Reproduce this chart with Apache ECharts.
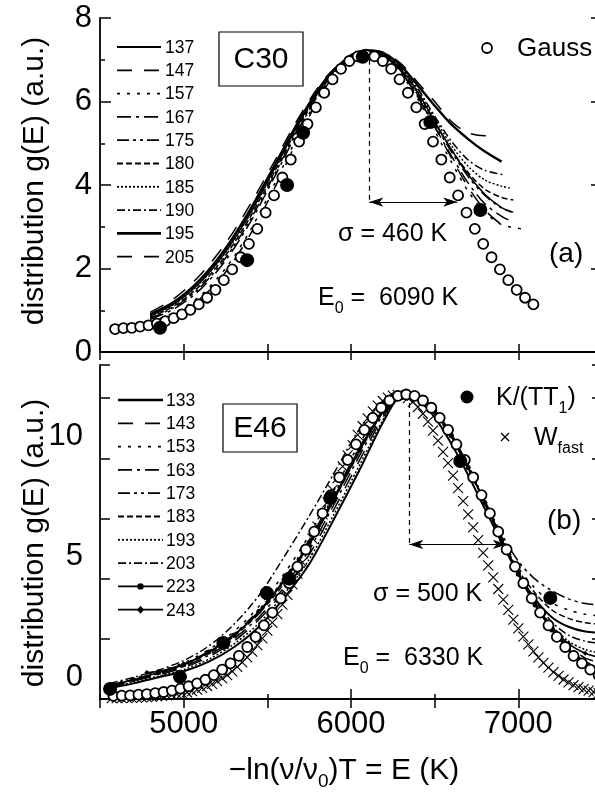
<!DOCTYPE html>
<html>
<head>
<meta charset="utf-8">
<script src="https://cdn.jsdelivr.net/npm/echarts@6/dist/echarts.min.js"></script>
<style>
html,body{margin:0;padding:0;background:#fff}
#main{width:595px;height:796px}
</style>
</head>
<body>
<div id="main"></div>
<script>
// ---------- panel (a) : C30 ----------
var c30Gauss = [[4590,0.55],[4640,0.57],[4690,0.58],[4740,0.61],[4790,0.64],[4840,0.68],[4890,0.74],[4940,0.81],[4990,0.90],[5040,1.01],[5090,1.14],[5140,1.30],[5190,1.49],[5240,1.72],[5290,1.98],[5340,2.27],[5390,2.59],[5440,2.95],[5490,3.34],[5540,3.75],[5590,4.18],[5640,4.61],[5690,5.04],[5740,5.46],[5790,5.86],[5840,6.21],[5890,6.53],[5940,6.78],[5990,6.97],[6040,7.08],[6090,7.12],[6140,7.08],[6190,6.97],[6240,6.78],[6290,6.53],[6340,6.21],[6390,5.86],[6440,5.46],[6490,5.04],[6540,4.61],[6590,4.18],[6640,3.75],[6690,3.34],[6740,2.95],[6790,2.59],[6840,2.27],[6890,1.98],[6940,1.72],[6990,1.49],[7040,1.30],[7090,1.14]];
var c30Ktt = [[4859,0.58],[5379,2.2],[5618,4.0],[5714,5.25],[6070,7.07],[6474,5.51],[6773,3.4]];

var c30_137 = [[4800,0.86],[4950,1.17],[5100,1.67],[5250,2.40],[5400,3.34],[5550,4.45],[5700,5.56],[5850,6.50],[6000,7.08],[6100,7.18],[6200,7.10],[6300,6.76],[6400,6.22],[6500,5.52],[6600,4.85],[6700,4.25],[6800,3.78],[6900,3.46],[6960,3.35]];
var c30_147 = [[4800,0.69],[4950,0.90],[5100,1.28],[5250,1.91],[5400,2.83],[5550,3.98],[5700,5.24],[5850,6.35],[6000,7.06],[6100,7.18],[6200,7.08],[6300,6.70],[6400,6.10],[6500,5.40],[6600,4.65],[6700,3.95],[6800,3.40],[6900,3.05],[6950,2.95]];
var c30_157 = [[4800,0.72],[4950,0.95],[5100,1.35],[5250,2.00],[5400,2.93],[5550,4.08],[5700,5.32],[5850,6.40],[6000,7.07],[6100,7.19],[6200,7.05],[6300,6.65],[6400,6.05],[6500,5.30],[6600,4.55],[6700,3.85],[6800,3.35],[6900,3.05],[7020,2.95]];
var c30_167 = [[4800,0.78],[4950,1.05],[5100,1.50],[5250,2.19],[5400,3.12],[5550,4.25],[5700,5.43],[5850,6.44],[6000,7.07],[6100,7.20],[6200,7.08],[6300,6.70],[6400,6.10],[6500,5.40],[6600,4.70],[6700,4.05],[6800,3.55],[6900,3.25],[6950,3.15]];
var c30_175 = [[4800,0.80],[4950,1.09],[5100,1.55],[5250,2.25],[5400,3.18],[5550,4.31],[5700,5.47],[5850,6.46],[6000,7.08],[6100,7.20],[6200,7.10],[6300,6.72],[6400,6.15],[6500,5.45],[6600,4.80],[6700,4.20],[6800,3.75],[6900,3.45],[6970,3.35]];
var c30_180 = [[4800,0.82],[4950,1.12],[5100,1.60],[5250,2.31],[5400,3.25],[5550,4.37],[5700,5.51],[5850,6.48],[6000,7.08],[6100,7.20],[6200,7.10],[6300,6.75],[6400,6.20],[6500,5.50],[6600,4.85],[6700,4.30],[6800,3.90],[6900,3.70],[6970,3.64]];
var c30_185 = [[4800,0.85],[4950,1.16],[5100,1.66],[5250,2.38],[5400,3.32],[5550,4.43],[5700,5.55],[5850,6.50],[6000,7.09],[6100,7.20],[6200,7.12],[6300,6.78],[6400,6.25],[6500,5.60],[6600,4.95],[6700,4.45],[6800,4.12],[6900,3.97],[6950,3.93]];
var c30_190 = [[4800,0.89],[4950,1.21],[5100,1.72],[5250,2.45],[5400,3.40],[5550,4.50],[5700,5.60],[5850,6.52],[6000,7.09],[6100,7.20],[6200,7.12],[6300,6.80],[6400,6.30],[6500,5.65],[6600,5.05],[6700,4.60],[6800,4.35],[6920,4.24]];
var c30_195 = [[4800,0.90],[4950,1.22],[5100,1.74],[5250,2.48],[5400,3.43],[5550,4.52],[5700,5.62],[5850,6.54],[6000,7.10],[6100,7.22],[6200,7.15],[6300,6.85],[6400,6.38],[6500,5.90],[6600,5.45],[6700,5.10],[6800,4.80],[6900,4.56]];
var c30_205 = [[4800,0.95],[4950,1.30],[5100,1.85],[5250,2.60],[5400,3.55],[5550,4.62],[5700,5.70],[5850,6.58],[6000,7.12],[6100,7.23],[6200,7.17],[6300,6.90],[6400,6.45],[6500,6.00],[6600,5.52],[6700,5.25],[6800,5.18],[6860,5.22]];

// ---------- panel (b) : E46 ----------
var e46Gauss = [[4580,0.13],[4630,0.14],[4680,0.15],[4730,0.18],[4780,0.2],[4830,0.24],[4880,0.29],[4930,0.35],[4980,0.43],[5030,0.53],[5080,0.65],[5130,0.8],[5180,0.99],[5230,1.22],[5280,1.48],[5330,1.79],[5380,2.16],[5430,2.58],[5480,3.06],[5530,3.59],[5580,4.18],[5630,4.81],[5680,5.5],[5730,6.21],[5780,6.95],[5830,7.71],[5880,8.47],[5930,9.21],[5980,9.93],[6030,10.58],[6080,11.18],[6130,11.68],[6180,12.1],[6230,12.4],[6280,12.59],[6330,12.65],[6380,12.59],[6430,12.4],[6480,12.1],[6530,11.68],[6580,11.18],[6630,10.58],[6680,9.93],[6730,9.21],[6780,8.47],[6830,7.71],[6880,6.95],[6930,6.21],[6980,5.5],[7030,4.81],[7080,4.18],[7130,3.59],[7180,3.06],[7230,2.58],[7280,2.16],[7330,1.79],[7380,1.48],[7430,1.22],[7480,0.99]];
var e46Ktt = [[4560,0.42],[4978,0.92],[5237,2.33],[5497,4.4],[5630,5.0],[5876,8.35],[6653,9.89],[7191,4.2]];
var e46Wfast = [[4570,0.04],[4600,0.04],[4630,0.04],[4660,0.05],[4690,0.05],[4720,0.06],[4750,0.07],[4780,0.08],[4810,0.09],[4840,0.11],[4870,0.13],[4900,0.15],[4930,0.17],[4960,0.2],[4990,0.24],[5020,0.28],[5050,0.33],[5080,0.39],[5110,0.46],[5140,0.54],[5170,0.63],[5200,0.74],[5230,0.86],[5260,0.99],[5290,1.15],[5320,1.33],[5350,1.52],[5380,1.73],[5410,1.97],[5440,2.24],[5470,2.52],[5500,2.84],[5530,3.17],[5560,3.53],[5590,3.92],[5620,4.33],[5650,4.76],[5680,5.21],[5710,5.68],[5740,6.17],[5770,6.66],[5800,7.16],[5830,7.67],[5860,8.18],[5890,8.69],[5920,9.18],[5950,9.66],[5980,10.12],[6010,10.55],[6040,10.97],[6070,11.33],[6100,11.66],[6130,11.95],[6160,12.19],[6190,12.38],[6220,12.52],[6250,12.6],[6280,12.63],[6310,12.6],[6340,12.5],[6370,12.34],[6400,12.13],[6430,11.85],[6460,11.52],[6490,11.15],[6520,10.73],[6550,10.27],[6580,9.8],[6610,9.28],[6640,8.76],[6670,8.22],[6700,7.67],[6730,7.13],[6760,6.6],[6790,6.07],[6820,5.55],[6850,5.05],[6880,4.57],[6910,4.13],[6940,3.7],[6970,3.3],[7000,2.93],[7030,2.59],[7060,2.27],[7090,1.98],[7120,1.73],[7150,1.5],[7180,1.3],[7210,1.12],[7240,0.96],[7270,0.81],[7300,0.69],[7330,0.58],[7360,0.49],[7390,0.41],[7420,0.35],[7450,0.29],[7480,0.24]];

var e46_133 = [[4560,0.45],[4700,0.65],[4850,0.9],[5000,1.15],[5150,1.55],[5300,2.15],[5450,3.0],[5600,4.2],[5750,5.6],[5900,7.5],[6050,9.5],[6200,11.6],[6300,12.55],[6400,12.4],[6500,11.7],[6600,10.6],[6700,9.3],[6800,7.9],[6900,6.5],[7000,5.2],[7100,4.15],[7200,3.4],[7300,3.0],[7400,2.8],[7500,2.75]];
var e46_143 = [[4560,0.5],[4700,0.75],[4850,1.0],[5000,1.3],[5150,1.75],[5300,2.4],[5450,3.3],[5600,4.5],[5750,6.0],[5900,7.9],[6050,9.9],[6200,11.8],[6300,12.6],[6400,12.45],[6500,11.85],[6600,10.85],[6700,9.55],[6800,8.1],[6900,6.6],[7000,5.2],[7100,3.95],[7200,2.9],[7300,2.12],[7400,1.55],[7500,1.3]];
var e46_153 = [[4560,0.6],[4700,0.85],[4850,1.15],[5000,1.5],[5150,2.05],[5300,2.8],[5450,3.85],[5600,5.2],[5750,6.8],[5900,8.7],[6050,10.6],[6200,12.2],[6300,12.7],[6400,12.55],[6500,12.0],[6600,11.0],[6700,9.7],[6800,8.2],[6900,6.75],[7000,5.45],[7100,4.6],[7200,4.0],[7300,3.7],[7400,3.52],[7500,3.45]];
var e46_163 = [[4560,0.52],[4700,0.78],[4850,1.05],[5000,1.35],[5150,1.82],[5300,2.5],[5450,3.4],[5600,4.65],[5750,6.2],[5900,8.1],[6050,10.1],[6200,11.9],[6300,12.6],[6400,12.45],[6500,11.9],[6600,10.9],[6700,9.6],[6800,8.17],[6900,6.65],[7000,5.21],[7100,3.95],[7200,2.95],[7300,2.2],[7400,1.7],[7500,1.5]];
var e46_173 = [[4560,0.58],[4700,0.82],[4850,1.1],[5000,1.45],[5150,1.98],[5300,2.7],[5450,3.7],[5600,5.0],[5750,6.6],[5900,8.5],[6050,10.45],[6200,12.1],[6300,12.7],[6400,12.55],[6500,12.0],[6600,11.0],[6700,9.7],[6800,8.23],[6900,6.86],[7000,5.72],[7100,4.98],[7200,4.5],[7300,4.16],[7400,3.97],[7500,3.9]];
var e46_183 = [[4560,0.55],[4700,0.8],[4850,1.07],[5000,1.4],[5150,1.9],[5300,2.6],[5450,3.55],[5600,4.8],[5750,6.4],[5900,8.3],[6050,10.25],[6200,12.0],[6300,12.65],[6400,12.5],[6500,11.95],[6600,10.95],[6700,9.66],[6800,8.18],[6900,6.7],[7000,5.35],[7100,4.4],[7200,3.7],[7300,3.35],[7400,3.17],[7500,3.1]];
var e46_193 = [[4560,0.48],[4700,0.7],[4850,0.95],[5000,1.22],[5150,1.65],[5300,2.28],[5450,3.15],[5600,4.35],[5750,5.8],[5900,7.7],[6050,9.7],[6200,11.7],[6300,12.6],[6400,12.45],[6500,11.9],[6600,10.9],[6700,9.6],[6800,8.15],[6900,6.65],[7000,5.22],[7100,4.0],[7200,3.05],[7300,2.4],[7400,2.05],[7500,1.9]];
var e46_203 = [[4560,0.65],[4700,0.9],[4850,1.2],[5000,1.6],[5150,2.2],[5300,3.1],[5450,4.3],[5600,5.9],[5750,7.6],[5900,9.4],[6050,11.2],[6200,12.4],[6300,12.75],[6400,12.5],[6500,11.95],[6600,10.94],[6700,9.64],[6800,8.17],[6900,6.66],[7000,5.25],[7100,4.1],[7200,3.2],[7300,2.65],[7400,2.4],[7500,2.3]];
var e46_223 = [[4560,0.55],[4700,0.8],[4850,1.1],[5000,1.42],[5150,1.95],[5300,2.65],[5450,3.65],[5600,4.95],[5750,6.5],[5900,8.4],[6050,10.4],[6200,12.05],[6300,12.6],[6400,12.6],[6500,12.0],[6600,10.95],[6700,9.62],[6800,8.15],[6900,6.62],[7000,5.18],[7100,3.9],[7200,2.87],[7300,2.05],[7400,1.45],[7500,1.1]];
var e46_243 = [[4780,1.1],[4850,1.15],[5000,1.45],[5150,1.95],[5300,2.65],[5450,3.6],[5600,4.9],[5750,6.4],[5900,8.3],[6050,10.3],[6200,12.0],[6300,12.65],[6400,12.5],[6500,11.9],[6600,10.9],[6700,9.6],[6800,8.15],[6900,6.65],[7000,5.22],[7100,3.98],[7200,3.0],[7300,2.3],[7400,1.9],[7500,1.7]];

var topNames = ['137','147','157','167','175','180','185','190','195','205'];
var topLines = [c30_137,c30_147,c30_157,c30_167,c30_175,c30_180,c30_185,c30_190,c30_195,c30_205];
var botNames = ['133','143','153','163','173','183','193','203','223','243'];
var botLines = [e46_133,e46_143,e46_153,e46_163,e46_173,e46_183,e46_193,e46_203,e46_223,e46_243];

// line styles
var topDash = ['solid',[15,12],[3,7],[14,5,3,5],[12,4,3,4,3,4],[6,3],[2,2],[8,3,2,3],'solid',[15,12]];
var topWidth = [1.5,1.5,1.5,1.5,1.5,1.5,1.5,1.5,2.4,1.5];
var botDash = ['solid',[15,12],[3,7],[14,5,3,5],[12,4,3,4,3,4],[6,3],[2,2],[8,3,2,3],'solid','solid'];
var botWidth = [2,1.5,1.5,1.5,1.5,1.5,1.5,1.5,1.5,1.5];
var botSym = ['none','none','none','none','none','none','none','none','circle','diamond'];

var FONT = 'Liberation Sans';
var chart = echarts.init(document.getElementById('main'), null, {renderer: 'canvas'});

function lineSeries(data, dash, width, xi, yi, sym) {
  return {
    type: 'line', data: data, xAxisIndex: xi, yAxisIndex: yi,
    symbol: sym, showSymbol: sym !== 'none', symbolSize: 5,
    smooth: 0.3, silent: true, z: 2,
    lineStyle: {color: '#000', width: width, type: dash},
    itemStyle: {color: '#000', opacity: 1}
  };
}

var series = [];
topLines.forEach(function (d, i) { series.push(lineSeries(d, topDash[i], topWidth[i], 0, 0, 'none')); });
botLines.forEach(function (d, i) { series.push(lineSeries(d, botDash[i], botWidth[i], 2, 2, botSym[i])); });

var openCircle = {color: '#fff', borderColor: '#000', borderWidth: 1.8, opacity: 1};
series.push({
  type: 'scatter', data: c30Gauss, xAxisIndex: 0, yAxisIndex: 0, symbol: 'circle', symbolSize: 10,
  itemStyle: openCircle, z: 4, silent: true,
  markLine: {
    silent: true, symbol: ['none', 'none'], label: {show: false}, animation: false,
    data: [
      [{coord: [6109, 7.0], lineStyle: {type: [5, 4], width: 1.2, color: '#000'}}, {coord: [6109, 3.59]}],
      [{coord: [6109, 3.59], symbol: 'arrow', symbolSize: [7, 14], lineStyle: {type: 'solid', width: 1.2, color: '#000'}}, {coord: [6635, 3.59], symbol: 'arrow', symbolSize: [7, 14]}]
    ]
  }
});
series.push({
  type: 'scatter', data: c30Ktt, xAxisIndex: 0, yAxisIndex: 0, symbol: 'circle', symbolSize: 14,
  itemStyle: {color: '#000', opacity: 1}, z: 5, silent: true
});
series.push({
  type: 'scatter', data: e46Wfast, xAxisIndex: 2, yAxisIndex: 2, symbol: 'path://M0,0L10,10M0,10L10,0', symbolSize: 10,
  itemStyle: {color: 'rgba(0,0,0,0)', borderColor: '#000', borderWidth: 1.1, opacity: 1}, z: 3, silent: true
});
series.push({
  type: 'scatter', data: e46Gauss, xAxisIndex: 2, yAxisIndex: 2, symbol: 'circle', symbolSize: 10,
  itemStyle: openCircle, z: 4, silent: true,
  markLine: {
    silent: true, symbol: ['none', 'none'], label: {show: false}, animation: false,
    data: [
      [{coord: [6348, 12.3], lineStyle: {type: [5, 4], width: 1.2, color: '#000'}}, {coord: [6348, 6.42]}],
      [{coord: [6348, 6.42], symbol: 'arrow', symbolSize: [7, 14], lineStyle: {type: 'solid', width: 1.2, color: '#000'}}, {coord: [6932, 6.42], symbol: 'arrow', symbolSize: [7, 14]}]
    ]
  }
});
series.push({
  type: 'scatter', data: e46Ktt, xAxisIndex: 2, yAxisIndex: 2, symbol: 'circle', symbolSize: 14,
  itemStyle: {color: '#000', opacity: 1}, z: 5, silent: true
});

var axLine = {show: true, lineStyle: {color: '#000', width: 1.8}};
var tickStyle = {color: '#000', width: 1.5};
function xAx(gi, pos, tickLen, labels) {
  return {
    type: 'value', gridIndex: gi, position: pos, min: 4500, max: 7500, interval: 500,
    axisLine: axLine, splitLine: {show: false},
    axisTick: {show: true, inside: true, length: tickLen, lineStyle: tickStyle},
    axisLabel: labels ? {
      show: true, margin: 10, fontFamily: FONT, fontSize: 31, color: '#000',
      formatter: function (v) { return v % 1000 === 0 ? String(v) : ''; }
    } : {show: false}
  };
}

var option = {
  animation: false,
  backgroundColor: '#fff',
  grid: [
    {left: 100, top: 18, width: 502, height: 334, outerBoundsMode: 'none'},
    {left: 100, top: 365, width: 502, height: 334, outerBoundsMode: 'none'}
  ],
  xAxis: [
    xAx(0, 'bottom', 8, false),
    xAx(0, 'top', 8, false),
    xAx(1, 'bottom', 5, true),
    xAx(1, 'top', 9, false),
    {
      type: 'value', gridIndex: 1, position: 'bottom', min: 4500, max: 7500, interval: 500,
      axisLine: {show: false}, splitLine: {show: false}, axisLabel: {show: false},
      axisTick: {show: true, inside: true, length: 10, lineStyle: tickStyle, customValues: [5000, 6000, 7000]}
    }
  ],
  yAxis: [
    {
      type: 'value', gridIndex: 0, position: 'left', min: 0, max: 8, interval: 2,
      axisLine: axLine, splitLine: {show: false},
      axisTick: {show: true, inside: true, length: 11, lineStyle: tickStyle},
      minorTick: {show: true, splitNumber: 2, length: 5, lineStyle: tickStyle},
      axisLabel: {margin: 8, fontFamily: FONT, fontSize: 31, color: '#000'}
    },
    {
      type: 'value', gridIndex: 0, position: 'right', min: 0, max: 8, interval: 2,
      axisLine: axLine, splitLine: {show: false},
      axisTick: {show: true, inside: true, length: 11, lineStyle: tickStyle},
      minorTick: {show: true, splitNumber: 2, length: 5, lineStyle: tickStyle},
      axisLabel: {show: false}
    },
    {
      type: 'value', gridIndex: 1, position: 'left', min: 0, max: 13.875, interval: 2.5,
      axisLine: axLine, splitLine: {show: false},
      axisTick: {show: true, inside: true, length: 10, lineStyle: tickStyle},
      axisLabel: {
        margin: 17, fontFamily: FONT, fontSize: 31, color: '#000',
        verticalAlign: 'bottom', lineHeight: 44,
        formatter: function (v) { return (v === 0 || v === 5 || v === 10) ? String(v) : ''; }
      }
    },
    {
      type: 'value', gridIndex: 1, position: 'right', min: 0, max: 13.875, interval: 2.5,
      axisLine: axLine, splitLine: {show: false},
      axisTick: {show: true, inside: true, length: 10, lineStyle: tickStyle},
      axisLabel: {show: false}
    }
  ],
  series: series
};

// legends, labels and annotations
var g = [];
function txt(x, y, s, size, align, extra) {
  var o = {
    type: 'text', x: x, y: y, silent: true, z: 20,
    style: {text: s, fontFamily: FONT, fontSize: size, fill: '#000',
      align: align || 'left', textAlign: align || 'left', verticalAlign: 'middle', textVerticalAlign: 'middle'}
  };
  if (extra) { for (var k in extra) o.style[k] = extra[k]; }
  return o;
}
function legendRows(names, dashes, widths, syms, y0, x0, x1, tx) {
  names.forEach(function (n, i) {
    var y = y0 + 23.3 * i;
    g.push({
      type: 'line', silent: true, z: 20,
      shape: {x1: x0, y1: y, x2: x1, y2: y},
      style: {stroke: '#000', lineWidth: widths[i] + 0.3, lineDash: dashes[i] === 'solid' ? null : dashes[i]}
    });
    if (syms && syms[i] === 'circle') {
      g.push({type: 'circle', silent: true, z: 21, shape: {cx: (x0 + x1) / 2, cy: y, r: 3.2}, style: {fill: '#000'}});
    } else if (syms && syms[i] === 'diamond') {
      var cx = (x0 + x1) / 2;
      g.push({type: 'polygon', silent: true, z: 21, shape: {points: [[cx, y - 4], [cx + 3.5, y], [cx, y + 4], [cx - 3.5, y]]}, style: {fill: '#000'}});
    }
    g.push(txt(tx, y + 1, n, 17.5));
  });
}
legendRows(topNames, topDash, topWidth, null, 47, 117, 161, 165);
legendRows(botNames, botDash, botWidth, botSym, 400, 118, 163, 166);

var sub = {s: {fontSize: 16, fontFamily: FONT, padding: [22, 0, 0, 0]}};

// panel (a)
g.push({type: 'rect', silent: true, z: 19, shape: {x: 219, y: 32, width: 84, height: 54}, style: {fill: '#fff', stroke: '#000', lineWidth: 1.2}});
g.push(txt(261, 60, 'C30', 30, 'center'));
g.push({type: 'circle', silent: true, z: 20, shape: {cx: 487, cy: 48, r: 5}, style: {fill: '#fff', stroke: '#000', lineWidth: 1.8}});
g.push(txt(517, 49, 'Gauss', 26));
g.push(txt(338, 234, 'σ = 460 K', 25));
g.push(txt(549, 254, '(a)', 28));
g.push(txt(318, 298, 'E{s|0} =  6090 K', 25, 'left', {rich: sub}));

// panel (b)
g.push({type: 'rect', silent: true, z: 19, shape: {x: 223, y: 404, width: 74, height: 48}, style: {fill: '#fff', stroke: '#000', lineWidth: 1.2}});
g.push(txt(260, 429, 'E46', 30, 'center'));
g.push({type: 'circle', silent: true, z: 20, shape: {cx: 467, cy: 397, r: 6.5}, style: {fill: '#000'}});
g.push(txt(496, 398, 'K/(TT{s|1})', 25, 'left', {rich: sub}));
g.push({type: 'line', silent: true, z: 20, shape: {x1: 501, y1: 433, x2: 509, y2: 441}, style: {stroke: '#000', lineWidth: 1.2}});
g.push({type: 'line', silent: true, z: 20, shape: {x1: 501, y1: 441, x2: 509, y2: 433}, style: {stroke: '#000', lineWidth: 1.2}});
g.push(txt(534, 438, 'W{s|fast}', 25, 'left', {rich: sub}));
g.push(txt(373, 594, 'σ = 500 K', 25));
g.push(txt(547, 521, '(b)', 28));
g.push(txt(343, 658, 'E{s|0} =  6330 K', 25, 'left', {rich: sub}));

// axis titles
g.push(txt(344, 771, '\u2212ln(\u03bd/\u03bd{s|0})T = E (K)', 30, 'center', {rich: {s: {fontSize: 19, fontFamily: FONT, padding: [22, 0, 0, 0]}}}));
var yt1 = txt(35, 181, 'distribution g(E) (a.u.)', 30, 'center');
yt1.rotation = Math.PI / 2;
g.push(yt1);
var yt2 = txt(35, 543, 'distribution g(E) (a.u.)', 30, 'center');
yt2.rotation = Math.PI / 2;
g.push(yt2);

option.graphic = {elements: g};
chart.setOption(option);
</script>
</body>
</html>
